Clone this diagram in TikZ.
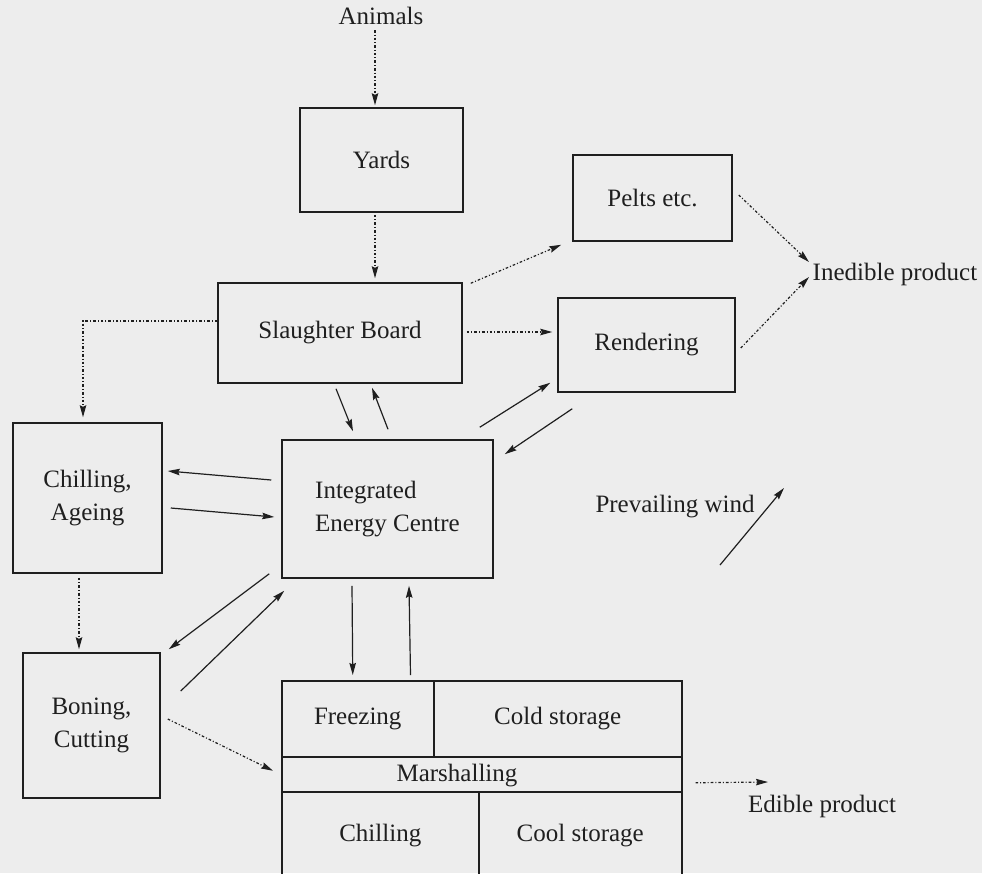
\documentclass[tikz,border=0pt]{standalone}
\usepackage{fontspec}
\setmainfont{Liberation Serif}
\usetikzlibrary{arrows.meta,calc}
\definecolor{ink}{gray}{0.12}
\definecolor{paper}{gray}{0.93}

\begin{document}
\begin{tikzpicture}[x=1pt,y=-1pt,
    every node/.style={text=ink,font=\fontsize{25}{33}\selectfont},
    stage/.style={draw=ink,line width=1.5pt,inner sep=0pt,align=center},
    cell/.style={stage,anchor=north west},
    flow/.style={draw=ink,line width=1.2pt,-{Stealth[length=12pt,width=6.5pt,inset=1.5pt]}},
    waste/.style={flow,dash pattern=on 2.6pt off 2pt on 1pt off 2pt}]
  \useasboundingbox (0,0) rectangle (982,873);
  \fill[paper] (0,0) rectangle (982,873);
  \clip (0,0) rectangle (982,873);

  % stages of the works
  \node (animals) at (381,16) {Animals};
  \node[stage,minimum width=163,minimum height=104] (yards) at (381.5,160) {Yards};
  \node[stage,minimum width=244,minimum height=100] (slaughter) at (340,333) {Slaughter Board};
  \node[stage,minimum width=159,minimum height=86] (pelts) at (652.5,198) {Pelts etc.};
  \node[stage,minimum width=177,minimum height=94] (rendering) at (646.5,345) {Rendering};
  \node (inedible) at (895,274) {Inedible product};
  \node[stage,minimum width=149,minimum height=150] (chillage) at (87.5,498) {Chilling,\\Ageing};
  \node[stage,minimum width=211,minimum height=138,align=left] (iec) at (387.5,509) {Integrated\\Energy Centre};
  \node (wind) at (675,507) {Prevailing wind};
  \node[stage,minimum width=137,minimum height=145] (boning) at (91.5,725.5) {Boning,\\Cutting};

  % storage block
  \node[cell,minimum width=152,minimum height=76] (freezing) at (281,680) {Freezing};
  \node[cell,minimum width=248,minimum height=76] (coldstore) at (433,680) {Cold storage};
  \node[cell,minimum width=400,minimum height=35] (marshal) at (281,756) {};
  \node (marshaltext) at (457,776) {Marshalling};
  \node[cell,minimum width=197,minimum height=88] (chill) at (281,791) {Chilling};
  \node[cell,minimum width=203,minimum height=88] (coolstore) at (478,791) {Cool storage};
  \node (edible) at (822,806) {Edible product};

  \coordinate (windtail) at (720,565);
  \coordinate (windtip) at (784,488);

  % product flows
  \draw[waste] ($(animals)+(-6,14)$) -- ($(yards.north)+(-6.5,-2)$);
  \draw[waste] ($(yards.south)+(-6.5,2)$) -- ($(slaughter.north)+(35,-4)$);
  \draw[waste] ($(slaughter.north east)+(8,1)$) -- ($(pelts.south west)+(-11,3)$);
  \draw[waste] ($(slaughter.east)+(4,-1)$) -- ($(rendering.west)+(-5,-13)$);
  \draw[waste] ($(slaughter.west)+(0,-12)$) -| ($(chillage.north)+(-4.5,-5)$);
  \draw[waste] ($(pelts.east)+(6,-3)$) -- ($(inedible)+(-86,-12)$);
  \draw[waste] ($(rendering.east)+(5,3)$) -- ($(inedible)+(-86,3)$);
  \draw[waste] ($(chillage.south)+(-8.5,4)$) -- ($(boning.north)+(-12.5,-3)$);
  \draw[waste] ($(boning.east)+(7,-6.5)$) -- ($(marshal.west)+(-8,-3.5)$);
  \draw[waste] ($(marshal.east)+(13,8.5)$) -- ($(edible)+(-54,-24)$);

  % energy flows
  \draw[flow] ($(slaughter.south)+(-4,5)$) -- ($(iec.north)+(-34.5,-8)$);
  \draw[flow] ($(iec.north)+(0.5,-10)$) -- ($(slaughter.south)+(32,4)$);
  \draw[flow] ($(iec.north east)+(-14,-12)$) -- ($(rendering.south west)+(-7,-10)$);
  \draw[flow] ($(rendering.south west)+(15,16)$) -- ($(iec.north east)+(11,15)$);
  \draw[flow] ($(iec.west)+(-10,-29)$) -- ($(chillage.east)+(5,-27)$);
  \draw[flow] ($(chillage.east)+(8,10)$) -- ($(iec.west)+(-7,8)$);
  \draw[flow] ($(iec.south west)+(-12,-5)$) -- ($(boning.north east)+(8,-3)$);
  \draw[flow] ($(boning.east)+(20,-34.5)$) -- ($(iec.south west)+(3,12)$);
  \draw[flow] ($(iec.south)+(-35.5,7)$) -- ($(freezing.north)+(-5,-5)$);
  \draw[flow] ($(freezing.north east)+(-24,-5)$) -- ($(iec.south)+(21.5,7)$);
  \draw[flow] (windtail) -- (windtip);
\end{tikzpicture}
\end{document}
